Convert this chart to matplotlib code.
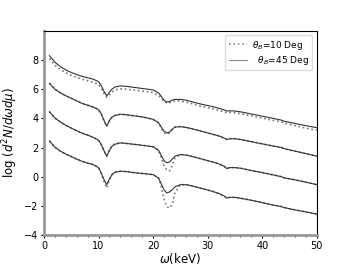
import matplotlib
matplotlib.use('Agg')
import matplotlib.pyplot as plt
from matplotlib.ticker import MultipleLocator

# photon energy grid (keV)
omega = [1, 2, 3, 4, 5, 6, 7, 8, 9, 10, 10.5, 11, 11.5, 12, 12.5, 13, 14, 15,
         16, 17, 18, 19, 20, 21, 21.5, 22, 22.5, 23, 23.5, 24, 25, 26, 27, 28,
         29, 30, 31, 32, 33, 33.5, 34, 35, 36, 38, 40, 42, 43.5, 44, 46, 48, 50]

# theta_B = 45 deg (solid)
c1_45 = [8.30, 7.85, 7.55, 7.32, 7.15, 7.00, 6.88, 6.78, 6.69, 6.52, 6.25, 5.85,
         5.54, 5.80, 6.02, 6.15, 6.22, 6.20, 6.15, 6.10, 6.05, 6.00, 5.95, 5.75,
         5.50, 5.25, 5.12, 5.15, 5.25, 5.30, 5.30, 5.25, 5.15, 5.05, 4.96, 4.88,
         4.80, 4.70, 4.58, 4.50, 4.52, 4.50, 4.45, 4.30, 4.15, 4.00, 3.88, 3.80,
         3.65, 3.50, 3.36]
c2_45 = [6.40, 6.00, 5.75, 5.55, 5.38, 5.20, 5.02, 4.90, 4.78, 4.60, 4.30, 3.85,
         3.47, 3.85, 4.10, 4.20, 4.28, 4.25, 4.20, 4.15, 4.10, 4.02, 3.93, 3.70,
         3.40, 3.12, 3.00, 3.05, 3.25, 3.40, 3.43, 3.38, 3.30, 3.20, 3.10, 3.00,
         2.90, 2.80, 2.65, 2.55, 2.60, 2.60, 2.55, 2.40, 2.25, 2.10, 2.00, 1.92,
         1.75, 1.58, 1.40]
c3_45 = [4.45, 4.02, 3.75, 3.52, 3.33, 3.15, 2.98, 2.85, 2.70, 2.50, 2.20, 1.78,
         1.40, 1.80, 2.10, 2.22, 2.32, 2.28, 2.24, 2.20, 2.15, 2.10, 2.05, 1.80,
         1.45, 1.10, 0.95, 1.00, 1.20, 1.40, 1.52, 1.48, 1.40, 1.30, 1.20, 1.10,
         1.00, 0.88, 0.72, 0.55, 0.62, 0.62, 0.58, 0.42, 0.28, 0.12, 0.00, -0.08,
         -0.22, -0.38, -0.55]
c4_45 = [2.45, 2.02, 1.75, 1.55, 1.38, 1.20, 1.05, 0.93, 0.83, 0.62, 0.25, -0.20,
         -0.55, -0.15, 0.15, 0.30, 0.37, 0.35, 0.30, 0.25, 0.22, 0.18, 0.14, -0.10,
         -0.50, -0.90, -1.12, -1.05, -0.90, -0.70, -0.55, -0.55, -0.62, -0.72, -0.82,
         -0.92, -1.02, -1.15, -1.32, -1.47, -1.42, -1.42, -1.48, -1.62, -1.78, -1.95,
         -2.05, -2.12, -2.28, -2.42, -2.57]

# theta_B = 10 deg (dotted)
c1_10 = [8.10, 7.65, 7.35, 7.12, 6.95, 6.80, 6.68, 6.58, 6.48, 6.32, 6.05, 5.70,
         5.45, 5.62, 5.82, 5.95, 6.02, 6.00, 5.96, 5.92, 5.87, 5.82, 5.76, 5.58,
         5.36, 5.15, 5.05, 5.08, 5.15, 5.20, 5.18, 5.12, 5.02, 4.92, 4.82, 4.73,
         4.65, 4.56, 4.45, 4.38, 4.40, 4.38, 4.32, 4.17, 4.02, 3.86, 3.75, 3.67,
         3.50, 3.33, 3.18]
c2_10 = [6.40, 6.00, 5.75, 5.55, 5.38, 5.20, 5.02, 4.90, 4.78, 4.60, 4.30, 3.82,
         3.45, 3.85, 4.10, 4.20, 4.28, 4.25, 4.20, 4.15, 4.10, 4.02, 3.93, 3.70,
         3.35, 3.02, 2.92, 3.00, 3.22, 3.40, 3.43, 3.38, 3.30, 3.20, 3.10, 3.00,
         2.90, 2.80, 2.65, 2.55, 2.60, 2.60, 2.55, 2.40, 2.25, 2.10, 2.00, 1.92,
         1.75, 1.58, 1.40]
c3_10 = [4.45, 4.02, 3.75, 3.52, 3.33, 3.15, 2.98, 2.85, 2.70, 2.50, 2.20, 1.75,
         1.42, 1.85, 2.15, 2.25, 2.32, 2.28, 2.24, 2.20, 2.15, 2.10, 2.05, 1.80,
         1.30, 0.75, 0.45, 0.40, 0.75, 1.25, 1.52, 1.48, 1.40, 1.30, 1.20, 1.10,
         1.00, 0.88, 0.72, 0.55, 0.62, 0.62, 0.58, 0.42, 0.28, 0.12, 0.00, -0.08,
         -0.22, -0.38, -0.55]
c4_10 = [2.45, 2.02, 1.75, 1.55, 1.38, 1.20, 1.05, 0.93, 0.83, 0.62, 0.20, -0.35,
         -0.78, -0.20, 0.15, 0.32, 0.37, 0.35, 0.30, 0.25, 0.22, 0.18, 0.14, -0.10,
         -0.70, -1.55, -2.05, -2.16, -1.90, -1.10, -0.55, -0.55, -0.62, -0.72, -0.82,
         -0.92, -1.02, -1.15, -1.32, -1.47, -1.42, -1.42, -1.48, -1.62, -1.78, -1.95,
         -2.05, -2.12, -2.28, -2.42, -2.57]

x_ticks = [0, 10, 20, 30, 40, 50]
y_ticks = [-4, -2, 0, 2, 4, 6, 8]

fig, ax = plt.subplots(figsize=(3.52, 2.64), dpi=100)

dot_kw = dict(color='#777777', linestyle=':', linewidth=1.2)
sol_kw = dict(color='#333333', linestyle='-', linewidth=0.8)
for i, (y10, y45) in enumerate([(c1_10, c1_45), (c2_10, c2_45),
                                (c3_10, c3_45), (c4_10, c4_45)]):
    ax.plot(omega, y10, label=r'$\theta_B$=10 Deg' if i == 0 else None, **dot_kw)
    ax.plot(omega, y45, label=r'  $\theta_B$=45 Deg' if i == 0 else None, **sol_kw)

ax.set_xlim(0, 50)
ax.set_ylim(-4, 10)
ax.set_xticks(x_ticks)
ax.set_yticks(y_ticks)
ax.xaxis.set_minor_locator(MultipleLocator(2))
ax.tick_params(labelsize=7, length=2.5, width=0.8, pad=1.5)
ax.tick_params(which='minor', length=1.5, width=0.6)

for side in ('left', 'bottom'):
    ax.spines[side].set_color('#999999')
    ax.spines[side].set_linewidth(2)
for side in ('top', 'right'):
    ax.spines[side].set_linewidth(0.8)

ax.set_xlabel(r'$\omega$(keV)', fontsize=8.5, labelpad=0)
ax.set_ylabel(r'log $(d^2N/d\omega d\mu)$', fontsize=8.5, labelpad=3)

leg = ax.legend(loc='upper right', fontsize=6.5, handlelength=2.0, borderpad=0.35,
                labelspacing=0.3, handletextpad=0.6, framealpha=1,
                edgecolor='#dddddd')
for line in leg.get_lines():
    line.set_color('#888888')

fig.subplots_adjust(left=0.125, right=0.9, top=0.883, bottom=0.11)
fig.savefig('out.png', dpi=100)
